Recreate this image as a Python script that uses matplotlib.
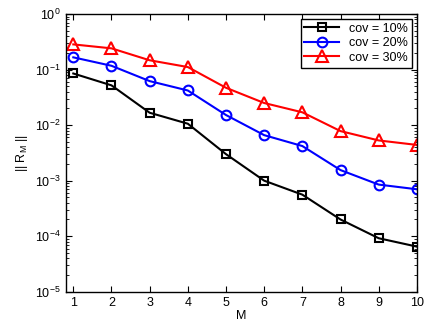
import numpy as np
import matplotlib
matplotlib.use('Agg')
import matplotlib.pyplot as plt

plt.rcParams['font.family'] = ['Liberation Sans', 'DejaVu Sans']

# values
M = [1, 2, 3, 4, 5, 6, 7, 8, 9, 10]
cov10 = [0.085, 0.052, 0.0167, 0.0106, 0.0030, 0.0010, 5.6e-4, 2.0e-4, 9.2e-5, 6.5e-5]
cov20 = [0.166, 0.117, 0.062, 0.042, 0.0152, 0.0066, 0.0042, 0.00155, 8.5e-4, 7.0e-4]
cov30 = [0.284, 0.241, 0.147, 0.111, 0.047, 0.025, 0.017, 0.0078, 0.0053, 0.0044]

fig = plt.figure(figsize=(4.32, 3.26), dpi=100)
ax = fig.add_axes([0.152, 0.105, 0.813, 0.852])

ax.semilogy(M, cov10, 'k-s', mfc='none', mew=1.5, ms=6, lw=1.5, label='cov = 10%')
ax.semilogy(M, cov20, 'b-o', mfc='none', mew=1.5, ms=7, lw=1.5, label='cov = 20%')
ax.semilogy(M, cov30, 'r-^', mfc='none', mew=1.5, ms=8, lw=1.5, label='cov = 30%')

ax.set_xlim(0.8, 10)
ax.set_ylim(1e-5, 1)
ax.set_xticks(M)
ax.set_yticks([1e-5, 1e-4, 1e-3, 1e-2, 1e-1, 1e0])
ax.tick_params(which='both', direction='in', top=True, right=True, labelsize=9)
ax.tick_params(which='major', length=4)
ax.tick_params(which='minor', length=2)
for s in ax.spines.values():
    s.set_linewidth(1.0)

ax.set_xlabel('M', fontsize=9, labelpad=1)
ax.set_ylabel('|| R$_\\mathregular{M}$ ||', fontsize=9)

leg = ax.legend(loc='upper right', fontsize=9, fancybox=False, framealpha=1,
                edgecolor='black', borderaxespad=0.4, handlelength=2.8,
                labelspacing=0.2, borderpad=0.3)
leg.get_frame().set_linewidth(1.0)

fig.savefig('out.png', dpi=100)
